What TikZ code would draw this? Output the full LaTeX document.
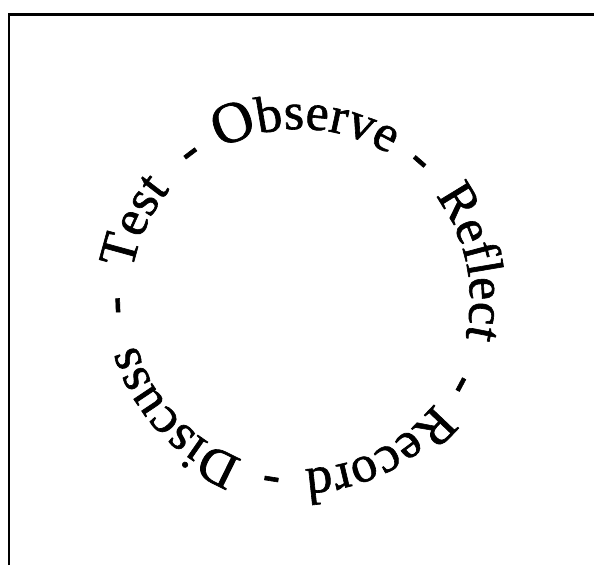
\documentclass[tikz,border=0pt]{standalone}
\usepackage{fontspec}
\setmainfont{Liberation Serif}
\newfontface\circfont{Liberation Serif}[FakeBold=1.2]
\usetikzlibrary{decorations.text}
\newcommand{\wordfont}{\circfont\fontsize{52}{62}\selectfont}
\newcommand{\bigOfont}{\circfont\fontsize{58}{68}\selectfont}
\def\rad{170pt}

\begin{document}
\begin{tikzpicture}[
  wordarc/.style={decorate, decoration={text along path, text={|\wordfont|#1}, text align=center}},
  sep/.style={anchor=base, font=\wordfont, inner sep=0pt}]
  \useasboundingbox (-300pt,-266pt) rectangle (294pt,299pt);
  % frame, cut off at the right and bottom
  \draw[line width=2.8pt] (-291pt,-266pt) |- (294pt,284.5pt);
  % words round the circle, clockwise from the top
  \node[sep, font=\bigOfont, rotate=21] (obsO) at (111:\rad) {O};
  \path[wordarc=bserve] (126.2:\rad) arc[start angle=126.2, end angle=36.2, radius=\rad];
  \path[wordarc=Reflect] (57:\rad) arc[start angle=57, end angle=-33, radius=\rad];
  \path[wordarc=Record] (-18:\rad) arc[start angle=-18, end angle=-108, radius=\rad];
  \path[wordarc=Discuss] (-92:\rad) arc[start angle=-92, end angle=-182, radius=\rad];
  \path[wordarc=Test] (200:\rad) arc[start angle=200, end angle=110, radius=\rad];
  % hyphens between the words
  \foreach \a [count=\i] in {127,49,-28,-99,-178}
    \node[sep, rotate=\a-90] (dash\i) at (\a:\rad) {-};
\end{tikzpicture}
\end{document}
